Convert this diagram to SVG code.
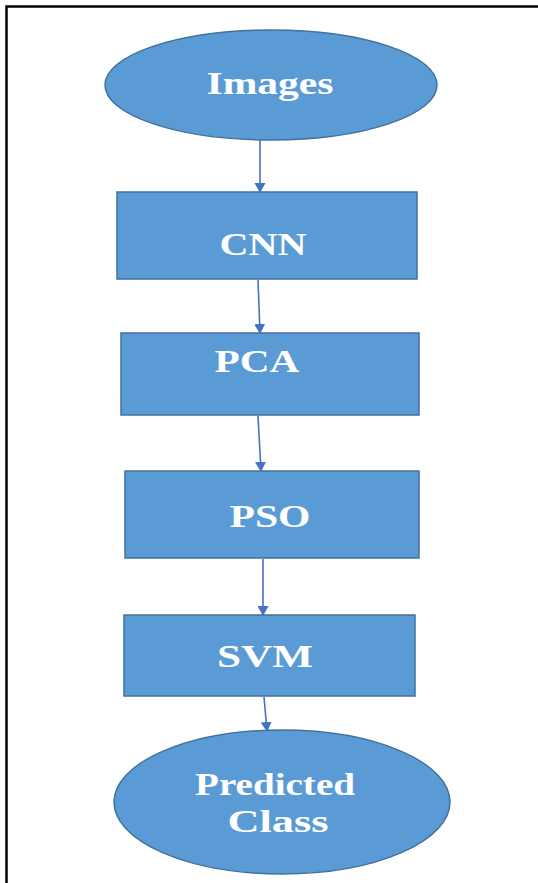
<svg xmlns="http://www.w3.org/2000/svg" width="538" height="883" viewBox="0 0 538 883">
<style>
.shape{fill:#5B9BD5;stroke:#41719C;stroke-width:1.5}
.lbl{font-family:"Liberation Serif","Times New Roman",serif;font-weight:bold;font-size:31px;fill:#FFFFFF;text-anchor:middle}
.conn{stroke:#4472C4;stroke-width:1.6;fill:none;marker-end:url(#ah)}
</style>
<defs>
<marker id="ah" markerWidth="12" markerHeight="12" refX="9" refY="6" orient="auto" markerUnits="userSpaceOnUse">
<path d="M0,0.5 L10,6 L0,11.5 Z" fill="#4472C4"/>
</marker>
</defs>
<rect x="0" y="0" width="538" height="883" fill="#FFFFFF"/>
<path d="M6.5,883 L6.5,6.5 L538,6.5" fill="none" stroke="#000000" stroke-width="2.5"/>
<g id="connectors">
<line class="conn" x1="260" y1="140" x2="260" y2="192"/>
<line class="conn" x1="258" y1="280" x2="260" y2="333"/>
<line class="conn" x1="258" y1="416" x2="261" y2="471"/>
<line class="conn" x1="263" y1="559" x2="263" y2="615"/>
<line class="conn" x1="264" y1="697" x2="267" y2="731"/>
</g>
<g id="images">
<ellipse class="shape" cx="271" cy="85" rx="166" ry="55"/>
<text class="lbl" x="270" y="94" textLength="127" lengthAdjust="spacingAndGlyphs">Images</text>
</g>
<g id="cnn">
<rect class="shape" x="117" y="192" width="300" height="87"/>
<text class="lbl" x="263" y="255" textLength="87" lengthAdjust="spacingAndGlyphs">CNN</text>
</g>
<g id="pca">
<rect class="shape" x="121" y="333" width="298" height="82"/>
<text class="lbl" x="257" y="372" textLength="85" lengthAdjust="spacingAndGlyphs">PCA</text>
</g>
<g id="pso">
<rect class="shape" x="125" y="471" width="294" height="87"/>
<text class="lbl" x="270" y="527" textLength="81" lengthAdjust="spacingAndGlyphs">PSO</text>
</g>
<g id="svm">
<rect class="shape" x="124" y="615" width="291" height="81"/>
<text class="lbl" x="265" y="667" textLength="96" lengthAdjust="spacingAndGlyphs">SVM</text>
</g>
<g id="predicted">
<ellipse class="shape" cx="282" cy="802" rx="168" ry="72"/>
<text class="lbl" x="275" y="795" textLength="160" lengthAdjust="spacingAndGlyphs">Predicted</text>
<text class="lbl" x="278" y="832" textLength="101" lengthAdjust="spacingAndGlyphs">Class</text>
</g>
</svg>
